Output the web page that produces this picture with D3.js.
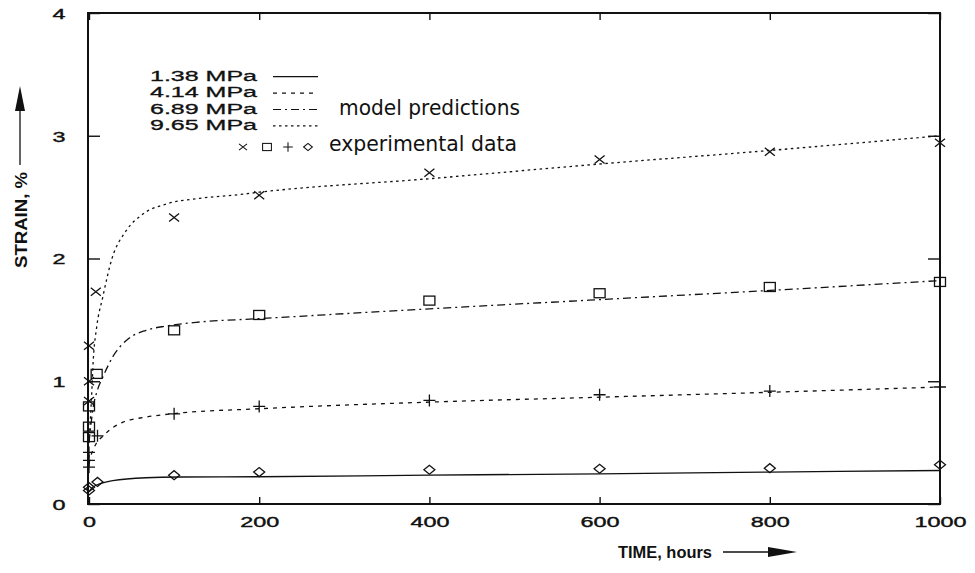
<!DOCTYPE html>
<html>
<head>
<meta charset="utf-8">
<script src="https://cdn.jsdelivr.net/npm/d3@7"></script>
<style>
  body { margin: 0; background: #fff; }
  svg { display: block; }
</style>
</head>
<body>
<svg id="chart" width="975" height="573"></svg>
<script>
// tick values
var hourTicks = [0, 200, 400, 600, 800, 1000];
var strainTicks = [0, 1, 2, 3, 4];

// legend labels
var stressLabels = ["1.38 MPa", "4.14 MPa", "6.89 MPa", "9.65 MPa"];

// model predictions, [hours, strain %]
var model138 = [[0,0.10],[5,0.14],[28,0.19],[67,0.214],[107,0.22],[200,0.222],[400,0.235],[600,0.246],[800,0.26],[1000,0.273]];
var model414 = [[0,0.33],[3,0.41],[6,0.46],[19,0.57],[40,0.667],[67,0.708],[99,0.736],[200,0.776],[400,0.83],[600,0.87],[800,0.91],[1000,0.953]];
var model689 = [[0,0.50],[5,0.79],[10,0.93],[16,1.03],[28,1.20],[47,1.35],[67,1.415],[91,1.45],[126,1.48],[200,1.51],[400,1.59],[600,1.665],[800,1.74],[1000,1.82]];
var model965 = [[0,0.50],[3,0.87],[5,1.17],[9,1.44],[16,1.68],[27,2.00],[43,2.22],[63,2.36],[94,2.45],[130,2.49],[176,2.52],[200,2.54],[400,2.65],[600,2.77],[800,2.88],[1000,3.00]];

// experimental data
var exp138 = [[0,0.11],[0,0.137],[10,0.18],[100,0.235],[200,0.26],[400,0.279],[600,0.287],[800,0.292],[1000,0.32]];
var exp414 = [[0,0.30],[0,0.355],[0,0.42],[10,0.555],[100,0.735],[200,0.795],[400,0.844],[600,0.89],[800,0.92],[1000,0.953]];
var exp689 = [[0,0.545],[0,0.63],[0,0.795],[9,1.06],[100,1.415],[200,1.54],[400,1.657],[600,1.717],[800,1.768],[1000,1.809]];
var exp965 = [[0,0.84],[0,1.0],[0,1.29],[8,1.73],[100,2.334],[200,2.516],[400,2.698],[600,2.807],[800,2.87],[1000,2.943]];

var ink = "#111";
var svg = d3.select("#chart");

var x = d3.scaleLinear().domain([0, 1000]).range([89, 940]);
var y = d3.scaleLinear().domain([0, 4]).range([504, 13]);

// frame
svg.append("rect")
    .attr("x", x.range()[0] - 1)
    .attr("y", y.range()[1])
    .attr("width", x.range()[1] - x.range()[0] + 1)
    .attr("height", y.range()[0] - y.range()[1])
    .attr("fill", "none")
    .attr("stroke", ink)
    .attr("stroke-width", 2);

// axes with inward ticks
var yAxis = svg.append("g")
    .attr("transform", "translate(" + (x.range()[0] - 1) + ",0)")
    .call(d3.axisLeft(y).tickValues(strainTicks).tickSize(-12).tickFormat(d3.format("d")));
var yAxisR = svg.append("g")
    .attr("transform", "translate(" + x.range()[1] + ",0)")
    .call(d3.axisRight(y).tickValues(strainTicks).tickSize(-12).tickFormat(""));
var xAxis = svg.append("g")
    .attr("transform", "translate(0," + y.range()[0] + ")")
    .call(d3.axisBottom(x).tickValues(hourTicks).tickSize(-7).tickFormat(d3.format("d")));
var xAxisT = svg.append("g")
    .attr("transform", "translate(0," + y.range()[1] + ")")
    .call(d3.axisTop(x).tickValues(hourTicks).tickSize(-7).tickFormat(""));

[yAxis, yAxisR, xAxis, xAxisT].forEach(function(g) {
  g.select(".domain").remove();
  g.selectAll(".tick line").attr("stroke", ink).attr("stroke-width", 1.4);
});

yAxis.selectAll("text")
    .attr("x", -29)
    .attr("dy", "0.36em")
    .attr("text-anchor", "middle")
    .style("font", "15px 'Liberation Sans', Arial, sans-serif")
    .attr("fill", ink)
    .attr("stroke", ink)
    .attr("stroke-width", 0.4)
    .attr("textLength", 13)
    .attr("lengthAdjust", "spacingAndGlyphs");

xAxis.selectAll("text")
    .attr("y", 23)
    .attr("dy", "0")
    .style("font", "15px 'Liberation Sans', Arial, sans-serif")
    .attr("fill", ink)
    .attr("stroke", ink)
    .attr("stroke-width", 0.4)
    .attr("textLength", function(d) { return String(d).length * 13; })
    .attr("lengthAdjust", "spacingAndGlyphs");

// axis titles
svg.append("text")
    .attr("transform", "translate(27,220) rotate(-90)")
    .attr("text-anchor", "middle")
    .style("font", "bold 16px 'Liberation Sans', Arial, sans-serif")
    .attr("fill", ink)
    .attr("textLength", 96)
    .attr("lengthAdjust", "spacingAndGlyphs")
    .text("STRAIN, %");
svg.append("line")
    .attr("x1", 20).attr("x2", 20).attr("y1", 165).attr("y2", 108)
    .attr("stroke", ink).attr("stroke-width", 1.3);
svg.append("path")
    .attr("d", "M20,86L15,111L25,111Z")
    .attr("fill", ink);

svg.append("text")
    .attr("x", 618)
    .attr("y", 558)
    .style("font", "bold 16px 'Liberation Sans', Arial, sans-serif")
    .attr("fill", ink)
    .attr("textLength", 94)
    .attr("lengthAdjust", "spacingAndGlyphs")
    .text("TIME, hours");
svg.append("line")
    .attr("x1", 723).attr("x2", 770).attr("y1", 552).attr("y2", 552)
    .attr("stroke", ink).attr("stroke-width", 1.3);
svg.append("path")
    .attr("d", "M797,552L768,547L768,557Z")
    .attr("fill", ink);

// model curves
var dashes = ["none", "4,5", "8,4,2,4", "2.5,3.5"];
var models = [model138, model414, model689, model965];
var line = d3.line()
    .x(function(d) { return x(d[0]); })
    .y(function(d) { return y(d[1]); })
    .curve(d3.curveMonotoneX);

svg.selectAll(".model")
    .data(models)
  .enter().append("path")
    .attr("class", "model")
    .attr("d", line)
    .attr("fill", "none")
    .attr("stroke", ink)
    .attr("stroke-width", 1.3)
    .attr("stroke-dasharray", function(d, i) { return dashes[i]; });

// marker shapes
function marker(g, kind) {
  if (kind === "x") {
    g.append("path").attr("d", "M-5,-4L5,4M-5,4L5,-4");
  } else if (kind === "square") {
    g.append("rect").attr("x", -5.5).attr("y", -4.5).attr("width", 11).attr("height", 9);
  } else if (kind === "plus") {
    g.append("path").attr("d", "M-6,0L6,0M0,-6L0,6");
  } else {
    g.append("path").attr("d", "M-5.5,0L0,-4.5L5.5,0L0,4.5Z");
  }
  g.selectAll("*")
    .attr("fill", "none")
    .attr("stroke", ink)
    .attr("stroke-width", 1.3);
}

var expSets = [
  {data: exp965, kind: "x"},
  {data: exp689, kind: "square"},
  {data: exp414, kind: "plus"},
  {data: exp138, kind: "diamond"}
];
expSets.forEach(function(s) {
  svg.selectAll(null)
      .data(s.data)
    .enter().append("g")
      .attr("transform", function(d) { return "translate(" + x(d[0]) + "," + y(d[1]) + ")"; })
      .each(function() { marker(d3.select(this), s.kind); });
});

// legend
var legend = svg.selectAll(".legend")
    .data(stressLabels)
  .enter().append("g")
    .attr("class", "legend")
    .attr("transform", function(d, i) { return "translate(0," + (80.7 + i * 16.4) + ")"; });
legend.append("rect")
    .attr("x", 146).attr("y", -12).attr("width", 178).attr("height", 15)
    .attr("fill", "#fff");
legend.append("text")
    .attr("x", 150)
    .style("font", "14px 'Liberation Sans', Arial, sans-serif")
    .attr("fill", ink)
    .attr("stroke", ink)
    .attr("stroke-width", 0.3)
    .attr("textLength", 107)
    .attr("lengthAdjust", "spacingAndGlyphs")
    .text(function(d) { return d; });
legend.append("line")
    .attr("x1", 273).attr("x2", 318)
    .attr("y1", -4).attr("y2", -4)
    .attr("stroke", ink)
    .attr("stroke-width", 1.2)
    .attr("stroke-dasharray", function(d, i) { return dashes[i]; });

svg.append("text")
    .attr("x", 339)
    .attr("y", 115)
    .style("font", "21px 'DejaVu Sans', sans-serif")
    .attr("fill", ink)
    .attr("textLength", 181)
    .attr("lengthAdjust", "spacingAndGlyphs")
    .text("model predictions");

var keyX = [243, 267, 288, 308];
["x", "square", "plus", "diamond"].forEach(function(k, i) {
  var g = svg.append("g").attr("transform", "translate(" + keyX[i] + ",147)");
  marker(g, k);
  g.selectAll("*").attr("transform", "scale(0.8)");
});
svg.append("text")
    .attr("x", 329)
    .attr("y", 151)
    .style("font", "21px 'DejaVu Sans', sans-serif")
    .attr("fill", ink)
    .attr("textLength", 188)
    .attr("lengthAdjust", "spacingAndGlyphs")
    .text("experimental data");
</script>
</body>
</html>
